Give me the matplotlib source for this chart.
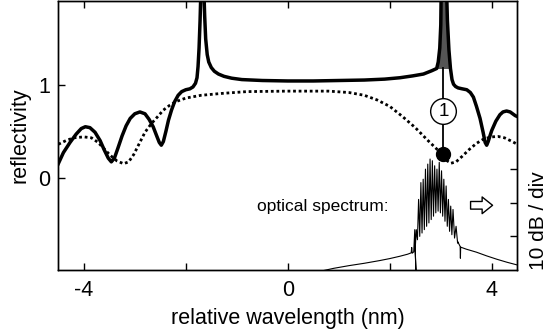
import matplotlib
matplotlib.use("Agg")
import matplotlib.pyplot as plt
import numpy as np

plt.rcParams['font.family'] = ['Liberation Sans', 'DejaVu Sans']
plt.rcParams['axes.unicode_minus'] = False

# reflectivity with gain (thick solid line)
refl_x = [-4.5, -4.4, -4.27, -4.15, -4.05, -3.97, -3.88, -3.78, -3.68, -3.6, -3.52, -3.46,
          -3.40, -3.33, -3.25, -3.17, -3.09, -3.0, -2.90, -2.80, -2.72, -2.64, -2.57, -2.52,
          -2.48, -2.44, -2.39, -2.34, -2.28, -2.22, -2.15, -2.08, -2.0, -1.92, -1.86, -1.81,
          -1.78, -1.76, -1.74, -1.72, -1.70, -1.65, -1.63, -1.61, -1.58, -1.55, -1.50, -1.44,
          -1.36, -1.25, -1.1, -0.9, -0.5, 0.0, 0.5, 1.0, 1.5, 1.9, 2.2, 2.45, 2.66, 2.82,
          2.92, 2.95, 2.98, 3.00, 3.01, 3.11, 3.13, 3.16, 3.19, 3.22, 3.25, 3.29, 3.34, 3.42,
          3.51, 3.58, 3.64, 3.70, 3.77, 3.83, 3.87, 3.90, 3.93, 3.97, 4.0, 4.08, 4.16, 4.22,
          4.29, 4.36, 4.46, 4.5]
refl_y = [0.15, 0.27, 0.38, 0.47, 0.53, 0.55, 0.54, 0.49, 0.40, 0.30, 0.21, 0.17,
          0.21, 0.32, 0.45, 0.56, 0.64, 0.69, 0.71, 0.69, 0.63, 0.55, 0.45, 0.38,
          0.35, 0.39, 0.50, 0.62, 0.73, 0.82, 0.89, 0.93, 0.95, 0.96, 0.98, 1.02,
          1.08, 1.2, 1.4, 1.7, 2.1, 2.1, 1.75, 1.5, 1.33, 1.25, 1.19, 1.15,
          1.12, 1.095, 1.075, 1.06, 1.05, 1.045, 1.045, 1.05, 1.055, 1.065, 1.08, 1.10, 1.12, 1.155,
          1.18, 1.25, 1.40, 1.65, 2.1, 2.1, 1.7, 1.38, 1.18, 1.06, 1.01, 0.985, 0.97, 0.96,
          0.95, 0.92, 0.87, 0.77, 0.64, 0.49, 0.38, 0.35, 0.39, 0.46, 0.51, 0.61, 0.68, 0.71,
          0.72, 0.71, 0.67, 0.66]

# passive reflectivity (dotted line)
pass_x = [-4.5, -4.35, -4.2, -4.0, -3.85, -3.72, -3.6, -3.48, -3.35, -3.22, -3.12, -3.02,
          -2.92, -2.80, -2.68, -2.55, -2.44, -2.32, -2.2, -2.0, -1.7, -1.3, -0.8, 0.0, 0.8,
          1.2, 1.5, 1.75, 2.0, 2.25, 2.5, 2.75, 2.9, 3.03, 3.1, 3.2, 3.3, 3.42, 3.55, 3.7,
          3.85, 4.0, 4.12, 4.25, 4.4, 4.5]
pass_y = [0.36, 0.40, 0.43, 0.44, 0.43, 0.38, 0.31, 0.24, 0.18, 0.15, 0.17, 0.25,
          0.36, 0.49, 0.58, 0.66, 0.73, 0.78, 0.82, 0.86, 0.89, 0.91, 0.93, 0.935, 0.935,
          0.92, 0.89, 0.84, 0.77, 0.66, 0.54, 0.40, 0.32, 0.25, 0.19, 0.155, 0.17, 0.23, 0.30, 0.37,
          0.42, 0.44, 0.445, 0.43, 0.39, 0.36]

# optical spectrum (right axis, dB)
spec_left_x = [0.6, 0.9, 1.2, 1.5, 1.8, 2.0, 2.2, 2.35, 2.42, 2.43, 2.44, 2.47, 2.49, 2.50, 2.515]
spec_left_db = [-80.5, -79.5, -78.7, -78.0, -77.2, -76.6, -75.9, -75.3, -74.9, -73.3, -75.0, -74.6,
                -68.0, -74.4, -81.0]
mode_x = [2.52, 2.565, 2.61, 2.655, 2.70, 2.745, 2.79, 2.835, 2.88, 2.925, 2.97, 3.015,
          3.06, 3.105, 3.15, 3.195, 3.24, 3.30]
mode_db = [-68, -59, -54, -53, -50, -48.5, -47, -47.5, -49, -50, -48, -50.5,
           -53, -55, -59, -61, -62, -67]
valley_db = [-74, -71, -70, -69, -68, -67, -66, -65, -64, -63, -62.5, -63,
             -64, -65.5, -67, -68.5, -69.5, -70.5, -72]
spec_right_x = [3.33, 3.38, 3.385, 3.39, 3.5, 3.7, 3.9, 4.1, 4.3, 4.5]
spec_right_db = [-71.5, -73.0, -76.5, -73.2, -73.8, -74.7, -75.8, -76.8, -77.7, -78.5]

marker_x = 3.05
dot_y = 0.25
label_y = 0.72
shade_level = 1.18

fig = plt.figure(figsize=(5.49, 3.35), dpi=100)
ax = fig.add_axes([0.1062, 0.194, 0.836, 0.803])
ax2 = ax.twinx()

ax.plot(pass_x, pass_y, color='black', lw=2.0, ls=(0, (1, 1)), zorder=3)
ax.plot(refl_x, refl_y, color='black', lw=2.5, zorder=4, solid_joinstyle='round')
rx = np.array(refl_x)
ry = np.array(refl_y)
ax.fill_between(rx, shade_level, ry, where=(ry >= shade_level) & (rx > 2.5),
                color='#555555', lw=0, zorder=3.5, interpolate=True)

ax.plot([marker_x, marker_x], [dot_y, shade_level], color='black', lw=1.3, zorder=5)
ax.plot([marker_x], [dot_y], 'o', color='black', ms=10, zorder=6)
ax.plot([marker_x], [label_y], 'o', mfc='white', mec='black', mew=1.0, ms=18.5, zorder=6)
ax.text(marker_x, label_y - 0.01, '1', ha='center', va='center', fontsize=13.5, zorder=7)

ax.text(-0.6, -0.31, 'optical spectrum:', ha='left', va='center', fontsize=12.5)
ax.annotate('', xy=(4.07, -0.30), xytext=(3.53, -0.30),
            arrowprops=dict(arrowstyle='simple,head_length=0.75,head_width=1.2,tail_width=0.55',
                            fc='white', ec='black', lw=1.0))

# spectrum
sx = list(spec_left_x)
sy = list(spec_left_db)
half = [(mode_x[i + 1] - mode_x[i]) / 2 for i in range(len(mode_x) - 1)]
for i, (mx, md) in enumerate(zip(mode_x, mode_db)):
    left = mx - (half[i - 1] if i > 0 else half[0])
    sx += [left, mx]
    sy += [valley_db[i], md]
sx += [mode_x[-1] + half[-1]]
sy += [valley_db[-1]]
sx += spec_right_x
sy += spec_right_db
ax2.plot(sx, sy, color='black', lw=0.8)

ax.set_xlim(-4.5, 4.5)
ax.set_ylim(-1.0, 1.91)
ax2.set_ylim(-80, 0)

ax.set_xticks([-4, -2, 0, 2, 4])
ax.set_xticklabels(['-4', '', '0', '', '4'])
ax.set_yticks([0, 1])
ax.set_yticklabels(['0', '1'])
ax2.set_yticks([-70, -60, -50])
ax2.set_yticklabels([])

ax.tick_params(axis='x', direction='in', top=True, length=5, width=1, labelsize=15.5, pad=7)
ax.tick_params(axis='y', direction='in', right=False, length=5, width=1, labelsize=15.5, pad=6)
ax2.tick_params(axis='y', direction='in', length=5, width=1)
for a in (ax, ax2):
    for s in a.spines.values():
        s.set_linewidth(1.0)

ax.set_xlabel('relative wavelength (nm)', fontsize=15.5, labelpad=5)
ax.set_ylabel('reflectivity', fontsize=15.5, labelpad=5)
fig.text(539 / 549, 1 - 221 / 335, '10 dB / div', rotation=90, ha='center', va='center',
         fontsize=15)

fig.savefig('out.png', dpi=100)
